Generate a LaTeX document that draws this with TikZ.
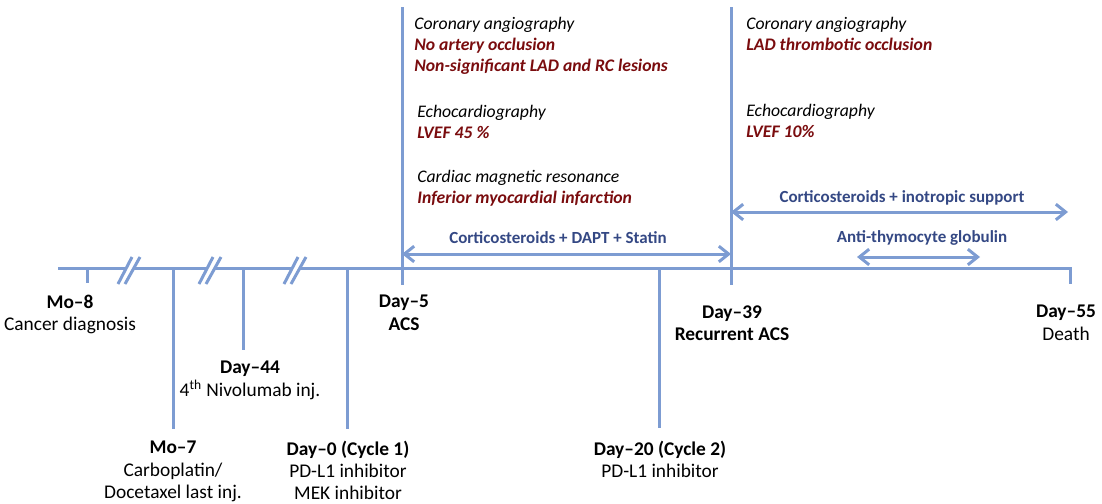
\documentclass[tikz,border=0pt]{standalone}
\usepackage{fontspec}
\setmainfont{Carlito}
\usetikzlibrary{positioning, arrows.meta}
\definecolor{lineblue}{RGB}{125,156,210}
\definecolor{txtblue}{RGB}{52,72,132}
\definecolor{dred}{RGB}{122,12,14}
\newcommand{\lblfont}{\fontsize{11.3}{12.9}\selectfont}
\newcommand{\notefont}{\fontsize{10.3}{12.25}\selectfont}
\newcommand{\drugfont}{\fontsize{9.9}{12}\selectfont\bfseries}
\newcommand{\hlres}[1]{\textcolor{dred}{\bfseries\itshape #1}}
\tikzstyle{axis} = [line width=1.75pt, draw=lineblue]
\tikzstyle{treat} = [line width=1.75pt, draw=lineblue, <->, >={Straight Barb[length=2mm,width=3.2mm]}]
\tikzstyle{datelbl} = [font=\lblfont, align=center, anchor=north, inner sep=0pt]
\tikzstyle{finding} = [font=\notefont, align=left, anchor=north west, inner sep=0pt]
\tikzstyle{drug} = [font=\drugfont, text=txtblue, anchor=base, inner sep=0pt]

\begin{document}
\begin{tikzpicture}[x=0.0205cm, y=-0.0205cm]
  \useasboundingbox (0,0) rectangle (1102,503);
  %时间轴上的点
  \coordinate (ax0) at (58,268);
  \coordinate (ax1) at (1070,268);
  \coordinate (ax1b) at (1070,284);
  \coordinate (mo8t) at (87,268);   \coordinate (mo8b) at (87,283);
  \coordinate (mo7t) at (173,268);  \coordinate (mo7b) at (173,429);
  \coordinate (d44t) at (243,268);  \coordinate (d44b) at (243,350);
  \coordinate (d0t) at (347,268);   \coordinate (d0b) at (347,429);
  \coordinate (d5t) at (402,7);     \coordinate (d5b) at (402,285);
  \coordinate (d20t) at (659,268);  \coordinate (d20b) at (659,428);
  \coordinate (d39t) at (731,7);    \coordinate (d39b) at (731,285);

  %时间轴
  \draw [axis] (ax0) -- (ax1) -- (ax1b);
  \foreach \bx in {129,210,295} {
    \fill [white] (\bx-6,274) -- (\bx+1,262) -- (\bx+9,262) -- (\bx+1.5,274) -- cycle;
    \draw [axis] (\bx-11,284) -- (\bx+3,257);
    \draw [axis] (\bx-4,284) -- (\bx+11,257);
  }
  \draw [axis] (mo8t) -- (mo8b);
  \draw [axis] (mo7t) -- (mo7b);
  \draw [axis] (d44t) -- (d44b);
  \draw [axis] (d0t) -- (d0b);
  \draw [axis] (d5t) -- (d5b);
  \draw [axis] (d20t) -- (d20b);
  \draw [axis] (d39t) -- (d39b);

  %日期标签
  \node (mo8) [datelbl] at (70,295) {\textbf{Mo–8}\\Cancer diagnosis};
  \node (mo7) [datelbl] at (173,441) {\textbf{Mo–7}\\Carboplatin/\\Docetaxel last inj.};
  \node (d44) [datelbl] at (250,361) {\textbf{Day–44}\\4\textsuperscript{th} Nivolumab inj.};
  \node (d0) [datelbl] at (348,441) {\textbf{Day–0 (Cycle 1)}\\PD-L1 inhibitor\\MEK inhibitor};
  \node (d5) [datelbl] at (404,295) {\textbf{Day–5}\\\textbf{ACS}};
  \node (d20) [datelbl] at (660,441) {\textbf{Day–20 (Cycle 2)}\\PD-L1 inhibitor};
  \node (d39) [datelbl] at (732,305) {\textbf{Day–39}\\\textbf{Recurrent ACS}};
  \node (d55) [datelbl] at (1066,305) {\textbf{Day–55}\\Death};

  %检查结果
  \node (cag1) [finding] at (414,17) {\textit{Coronary angiography}\\\hlres{No artery occlusion}\\\hlres{Non-significant LAD and RC lesions}};
  \node (echo1) [finding] at (417,105) {\textit{Echocardiography}\\\hlres{LVEF 45 \%}};
  \node (cmr1) [finding] at (417,170) {\textit{Cardiac magnetic resonance}\\\hlres{Inferior myocardial infarction}};
  \node (cag2) [finding] at (746,17) {\textit{Coronary angiography}\\\hlres{LAD thrombotic occlusion}};
  \node (echo2) [finding] at (746,104) {\textit{Echocardiography}\\\hlres{LVEF 10\%}};

  %治疗
  \coordinate (tr1a) at (402,254);  \coordinate (tr1b) at (731,254);
  \coordinate (tr2a) at (731,212);  \coordinate (tr2b) at (1068,212);
  \coordinate (tr3a) at (857,257);  \coordinate (tr3b) at (980,257);
  \node (tr1) [drug] at (558,243) {Corticosteroids + DAPT + Statin};
  \node (tr2) [drug] at (902,202) {Corticosteroids + inotropic support};
  \node (tr3) [drug] at (922,242) {Anti-thymocyte globulin};
  \draw [treat] (tr1a) -- (tr1b);
  \draw [treat] (tr2a) -- (tr2b);
  \draw [treat] (tr3a) -- (tr3b);
\end{tikzpicture}
\end{document}
